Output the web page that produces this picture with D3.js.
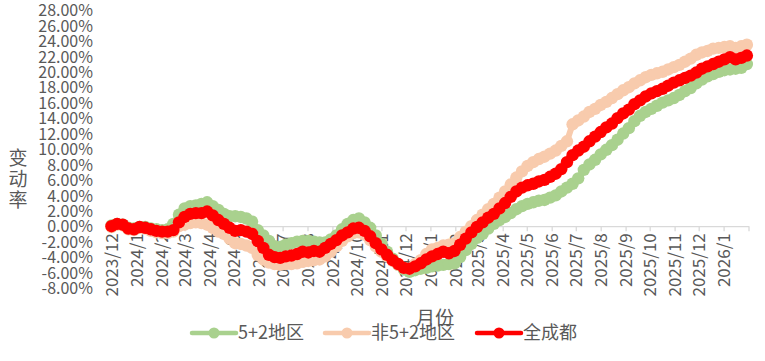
<!DOCTYPE html>
<html>
<head>
<meta charset="utf-8">
<script src="https://cdn.jsdelivr.net/npm/d3@7/dist/d3.min.js"></script>
<style>
  html, body { margin: 0; padding: 0; background: #fff; }
  svg { display: block; }
  text { font-family: "Microsoft YaHei", "Noto Sans CJK SC", "Noto Sans", sans-serif; fill: #595959; }
</style>
</head>
<body>
<svg id="chart" width="765" height="361"></svg>
<script>
// ---- data ----
const startDate = "2023-12-01";           // first weekly observation
const weekCount = 114;                    // weekly observations
const tickLabels = ["2023/12","2024/1","2024/2","2024/3","2024/4","2024/5","2024/6","2024/7","2024/8","2024/9","2024/10","2024/11","2024/12","2025/1","2025/2","2025/3","2025/4","2025/5","2025/6","2025/7","2025/8","2025/9","2025/10","2025/11","2025/12","2026/1"];
const yTicks = [28,26,24,22,20,18,16,14,12,10,8,6,4,2,0,-2,-4,-6,-8];
const seriesNames = ["5+2地区","非5+2地区","全成都"];

// values in %
const green = [0.1,0.3,0.2,-0.2,-0.3,-0.1,-0.1,-0.3,-0.4,-0.5,-0.4,0.3,1.5,2.3,2.6,2.7,2.9,3.1,2.6,2.1,
  1.6,1.3,1.3,1.2,1.0,0.6,-0.5,-1.2,-1.9,-2.6,-2.7,-2.4,-2.2,-2.0,-1.9,-1.9,-2.0,-2.1,-2.1,-1.7,
  -1.2,-0.4,0.3,0.8,1.0,0.5,-0.2,-1.2,-2.3,-3.3,-4.2,-5.0,-5.6,-5.9,-5.7,-5.5,-5.4,-5.2,-5.1,-5.0,
  -4.9,-4.8,-4.0,-3.1,-2.3,-1.5,-1.0,-0.3,0.3,0.8,1.2,1.7,2.2,2.6,2.9,3.1,3.3,3.4,3.7,4.0,
  4.5,5.0,5.5,6.2,7.3,8.0,8.6,9.3,9.9,10.5,11.2,12.0,12.7,13.6,14.3,14.8,15.2,15.6,16.0,16.3,
  16.6,17.0,17.5,17.9,18.5,19.0,19.4,19.7,20.0,20.2,20.3,20.4,20.5,21.0];
const peach = [-0.1,0.2,0.1,-0.4,-0.5,-0.2,-0.3,-0.6,-0.8,-0.9,-0.9,-0.7,0.0,0.2,0.4,0.5,0.4,0.2,-0.2,-0.7,
  -1.0,-1.6,-2.2,-2.3,-2.5,-2.8,-3.7,-4.3,-4.7,-4.9,-5.0,-4.9,-4.9,-4.8,-4.6,-4.5,-4.4,-4.3,-3.9,-3.3,
  -2.6,-1.9,-1.3,-0.9,-0.8,-1.1,-1.8,-2.6,-3.3,-3.9,-4.5,-5.0,-5.4,-5.5,-4.9,-4.4,-3.6,-3.0,-2.8,-2.5,
  -2.4,-2.2,-1.4,-0.7,0.0,0.8,1.5,2.2,2.9,3.7,4.5,5.4,6.3,7.1,7.8,8.3,8.7,9.0,9.4,9.8,
  10.4,11.0,13.2,13.7,14.2,14.8,15.2,15.7,16.1,16.6,17.1,17.6,18.0,18.5,18.9,19.3,19.6,19.8,20.0,20.3,
  20.6,20.9,21.3,21.7,22.2,22.5,22.7,23.0,23.1,23.2,23.3,23.1,23.3,23.5];
const red = [0.0,0.3,0.2,-0.3,-0.4,-0.1,-0.2,-0.4,-0.6,-0.7,-0.7,-0.5,0.5,1.2,1.6,1.7,1.7,1.9,1.4,0.8,
  0.3,-0.2,-0.6,-0.5,-0.7,-1.0,-1.9,-2.8,-3.7,-4.0,-4.1,-3.9,-3.8,-3.6,-3.3,-3.4,-3.2,-3.3,-2.8,-2.3,
  -1.8,-1.2,-0.8,-0.3,-0.2,-0.6,-1.3,-2.2,-3.0,-3.7,-4.4,-4.9,-5.4,-5.5,-5.2,-4.8,-4.3,-3.9,-3.6,-3.3,
  -3.5,-3.2,-2.4,-1.6,-0.8,-0.1,0.5,1.1,1.6,2.3,3.0,3.8,4.5,5.0,5.3,5.5,5.8,6.0,6.4,6.8,
  7.4,8.3,9.2,9.8,10.3,11.0,11.6,12.2,12.8,13.3,14.0,14.6,15.1,15.8,16.3,16.8,17.2,17.5,17.8,18.2,
  18.6,18.9,19.2,19.5,19.9,20.4,20.7,21.0,21.3,21.6,21.9,21.6,21.8,22.1];

const seriesColors = ["#a9d18e","#f8cbad","#ff0000"];

// ---- build ----
const parse = d3.timeParse("%Y-%m-%d");
const t0 = parse(startDate);
const dates = d3.range(weekCount).map(i => d3.timeDay.offset(t0, 7 * i));
const tickDates = tickLabels.map(s => { const [y, m] = s.split("/").map(Number); return new Date(y, m - 1, 1); });

const svg = d3.select("#chart");
const x = d3.scaleTime().domain([new Date(2023, 11, 1), new Date(2026, 1, 1)]).range([111.5, 748.5]);
const y = d3.scaleLinear().domain([-8, 28]).range([288, 10]);

// y axis labels (no axis line)
const yAxis = d3.axisLeft(y).tickValues(yTicks).tickSize(0).tickPadding(0)
  .tickFormat(d => d.toFixed(2) + "%");
const gy = svg.append("g").attr("transform", "translate(93,0)").call(yAxis);
gy.select(".domain").remove();
gy.selectAll("text").attr("font-size", 16).attr("fill", "#595959")
  .style("font-family", "\"Microsoft YaHei\", \"Noto Sans CJK SC\", sans-serif").attr("dy", "0.36em");

// x axis at zero
const xAxis = d3.axisBottom(x).tickValues(tickDates.concat([new Date(2026, 1, 1)]))
  .tickSize(5).tickSizeOuter(0)
  .tickFormat((d, i) => i < tickLabels.length ? tickLabels[i] : "");
const gx = svg.append("g").attr("transform", `translate(0,${y(0)})`).call(xAxis);
gx.select(".domain").attr("stroke", "#d9d9d9").attr("stroke-width", 1.3);
gx.selectAll(".tick line").attr("stroke", "#d9d9d9").attr("stroke-width", 1.3);
gx.selectAll(".tick text")
  .attr("font-size", 17).attr("fill", "#595959")
  .style("font-family", "\"Microsoft YaHei\", \"Noto Sans CJK SC\", sans-serif")
  .attr("text-anchor", "end")
  .attr("transform", "rotate(-90)")
  .attr("x", -7).attr("y", 0).attr("dy", "0.35em");

// series
const allSeries = [green, peach, red];
const line = d3.line().x((d, i) => x(dates[i])).y(d => y(d));
allSeries.forEach((vals, k) => {
  const g = svg.append("g");
  g.append("path").datum(vals).attr("d", line)
    .attr("fill", "none").attr("stroke", seriesColors[k]).attr("stroke-width", 6)
    .attr("stroke-linejoin", "round").attr("stroke-linecap", "round");
  g.selectAll("circle").data(vals).join("circle")
    .attr("cx", (d, i) => x(dates[i])).attr("cy", d => y(d)).attr("r", 6.2)
    .attr("fill", seriesColors[k]);
});

// axis titles
const yt = svg.append("text").attr("font-size", 19).attr("fill", "#595959").attr("text-anchor", "middle");
["变", "动", "率"].forEach((c, i) => yt.append("tspan").attr("x", 18).attr("y", 165 + i * 21).text(c));
svg.append("text").attr("x", 435).attr("y", 325).attr("font-size", 19).attr("text-anchor", "middle")
  .attr("fill", "#595959").text("月份");

// legend
const legendX = [192, 325, 477];
seriesNames.forEach((n, k) => {
  const g = svg.append("g").attr("transform", `translate(${legendX[k]},333)`);
  g.append("line").attr("x1", 0).attr("x2", 44).attr("y1", 0).attr("y2", 0)
    .attr("stroke", seriesColors[k]).attr("stroke-width", 4.5).attr("stroke-linecap", "round");
  g.append("circle").attr("cx", 22).attr("cy", 0).attr("r", 5.5).attr("fill", seriesColors[k]);
  g.append("text").attr("x", 46).attr("y", 0).attr("dy", "0.36em").attr("font-size", 18)
    .attr("fill", "#595959").text(n);
});
</script>
</body>
</html>
